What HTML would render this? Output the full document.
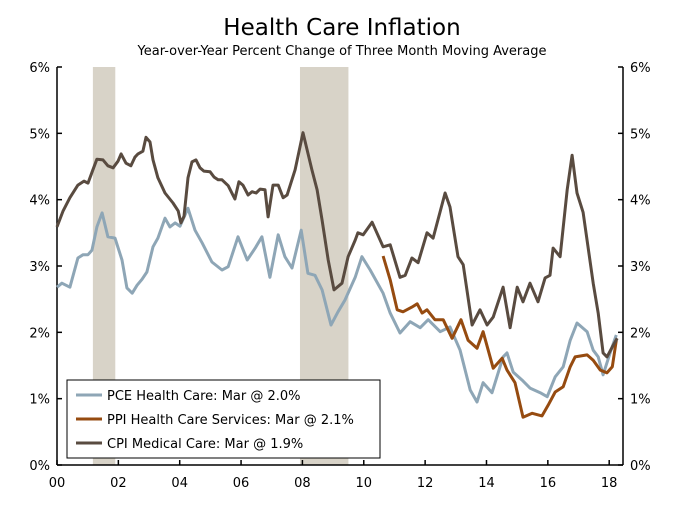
<!DOCTYPE html>
<html><head><meta charset="utf-8"><style>
body{margin:0;background:#fff;font-family:"DejaVu Sans","Liberation Sans",sans-serif;}
svg text{font-family:"DejaVu Sans","Liberation Sans",sans-serif;}
</style></head><body>
<svg id="chart" width="684" height="511">
<text x="342" y="35" text-anchor="middle" font-size="23" fill="#000">Health Care Inflation</text>
<text x="342" y="55" text-anchor="middle" font-size="13" fill="#000">Year-over-Year Percent Change of Three Month Moving Average</text>
<g id="rec"></g><g id="axes"></g><g id="lines"></g><g id="legend"></g>
</svg>
<script>
const recessions=[[1.17,1.9],[7.92,9.5]];
const yTicks=[0,1,2,3,4,5,6];
const xTickYears=[0,2,4,6,8,10,12,14,16,18];
const xTickLabels=["00","02","04","06","08","10","12","14","16","18"];
const cpiT=[0,0.2,0.42,0.68,0.88,1.01,1.17,1.3,1.5,1.66,1.83,1.99,2.09,2.25,2.41,2.54,2.64,2.8,2.9,3.03,3.13,3.29,3.52,3.78,3.95,4.04,4.14,4.27,4.4,4.53,4.66,4.79,4.99,5.12,5.25,5.38,5.58,5.71,5.8,5.93,6.06,6.23,6.36,6.49,6.62,6.78,6.88,7.04,7.21,7.37,7.5,7.76,8.02,8.31,8.48,8.64,8.84,9.03,9.29,9.49,9.72,9.81,9.98,10.27,10.63,10.86,11.18,11.35,11.57,11.77,12.06,12.26,12.65,12.81,13.07,13.24,13.53,13.79,14.02,14.22,14.54,14.77,15,15.19,15.42,15.68,15.91,16.07,16.17,16.4,16.63,16.79,16.95,17.15,17.48,17.64,17.8,17.93,18.1,18.26];
const cpiV=[3.59,3.83,4.03,4.22,4.28,4.25,4.45,4.61,4.6,4.51,4.48,4.58,4.69,4.55,4.51,4.64,4.69,4.73,4.94,4.87,4.6,4.33,4.1,3.95,3.83,3.65,3.75,4.33,4.57,4.6,4.48,4.43,4.42,4.34,4.3,4.3,4.21,4.09,4.01,4.27,4.22,4.07,4.12,4.1,4.16,4.15,3.74,4.22,4.22,4.03,4.07,4.45,5.01,4.45,4.15,3.69,3.09,2.64,2.74,3.14,3.39,3.5,3.47,3.66,3.29,3.32,2.83,2.86,3.12,3.05,3.5,3.42,4.1,3.89,3.14,3.02,2.11,2.34,2.11,2.23,2.68,2.07,2.68,2.46,2.74,2.46,2.82,2.86,3.27,3.14,4.15,4.67,4.1,3.81,2.74,2.29,1.69,1.63,1.78,1.91];
const pceT=[0,0.16,0.42,0.68,0.85,1.01,1.14,1.3,1.47,1.66,1.89,2.12,2.28,2.45,2.61,2.77,2.93,3.13,3.29,3.52,3.68,3.85,4.01,4.27,4.5,4.73,5.05,5.38,5.58,5.9,6.2,6.46,6.68,6.94,7.21,7.43,7.66,7.96,8.18,8.41,8.64,8.93,9.16,9.39,9.72,9.94,10.21,10.63,10.86,11.18,11.51,11.84,12.1,12.49,12.81,13.14,13.47,13.69,13.89,14.18,14.54,14.67,14.87,15.16,15.42,15.75,15.98,16.24,16.5,16.73,16.95,17.28,17.48,17.64,17.8,18.03,18.23];
const pceV=[2.68,2.74,2.68,3.12,3.17,3.17,3.24,3.59,3.8,3.44,3.42,3.09,2.67,2.59,2.71,2.8,2.91,3.29,3.42,3.72,3.59,3.65,3.6,3.87,3.54,3.35,3.06,2.94,2.99,3.44,3.09,3.27,3.44,2.83,3.47,3.14,2.97,3.54,2.89,2.86,2.64,2.11,2.31,2.49,2.83,3.14,2.94,2.59,2.29,1.99,2.16,2.07,2.19,2.01,2.08,1.73,1.13,0.95,1.24,1.09,1.63,1.69,1.4,1.28,1.16,1.09,1.03,1.33,1.48,1.88,2.14,2.01,1.73,1.63,1.36,1.69,1.96];
const ppiT=[10.63,10.86,11.09,11.28,11.57,11.74,11.9,12.06,12.32,12.59,12.88,13.17,13.4,13.69,13.89,14.22,14.51,14.67,14.93,15.19,15.49,15.81,16.01,16.24,16.5,16.73,16.89,17.28,17.48,17.71,17.93,18.1,18.23];
const ppiV=[3.15,2.79,2.34,2.31,2.38,2.43,2.29,2.34,2.19,2.19,1.91,2.19,1.88,1.76,2.01,1.46,1.61,1.43,1.24,0.72,0.78,0.74,0.9,1.1,1.18,1.48,1.63,1.66,1.58,1.43,1.39,1.48,1.88];
const seriesNames=["PCE Health Care: Mar @ 2.0%","PPI Health Care Services: Mar @ 2.1%","CPI Medical Care: Mar @ 1.9%"];

const NS="http://www.w3.org/2000/svg";
const L=57,R=623,T=67,B=465,TMAX=18.45;
const xs=t=>L+t/TMAX*(R-L);
const ys=v=>B-v/6*(B-T);
function mk(tag,attrs,parent){const e=document.createElementNS(NS,tag);for(const k in attrs)e.setAttribute(k,attrs[k]);parent.appendChild(e);return e;}
const rec=document.getElementById('rec'),axes=document.getElementById('axes'),lines=document.getElementById('lines'),leg=document.getElementById('legend');
recessions.forEach(r=>{const e=mk('rect',{x:xs(r[0]),y:T,width:xs(r[1])-xs(r[0]),height:B-T,fill:'#d8d3c8'},rec);

});
let a=mk('line',{x1:L,y1:T,x2:L,y2:B,stroke:'#000','stroke-width':1.5},axes);


a=mk('line',{x1:R,y1:T,x2:R,y2:B,stroke:'#000','stroke-width':1.5},axes);


a=mk('line',{x1:L,y1:B,x2:R,y2:B,stroke:'#000','stroke-width':1.5},axes);


yTicks.forEach(v=>{const y=ys(v);
mk('line',{x1:L,y1:y,x2:L+5,y2:y,stroke:'#000','stroke-width':1.5},axes);
mk('line',{x1:R-5,y1:y,x2:R,y2:y,stroke:'#000','stroke-width':1.5},axes);
const t1=mk('text',{x:L-7,y:y+5,'text-anchor':'end','font-size':13},axes);t1.textContent=v+'%';


const t2=mk('text',{x:R+7,y:y+5,'text-anchor':'start','font-size':13},axes);t2.textContent=v+'%';

});
xTickYears.forEach((yr,i)=>{const x=xs(yr);
mk('line',{x1:x,y1:B,x2:x,y2:B-5,stroke:'#000','stroke-width':1.5},axes);
const t=mk('text',{x:x,y:B+22,'text-anchor':'middle','font-size':13},axes);t.textContent=xTickLabels[i];

});
function line(ts,vs,color,name){const d=ts.map((t,i)=>(i?'L':'M')+xs(t).toFixed(1)+','+ys(vs[i]).toFixed(1)).join('');
const p=mk('path',{d:d,fill:'none',stroke:color,'stroke-width':3,'stroke-linejoin':'round'},lines);

}
line(pceT,pceV,'#8ea6b6','pce-health-care-line');
line(ppiT,ppiV,'#964b10','ppi-health-care-services-line');
line(cpiT,cpiV,'#594b40','cpi-medical-care-line');
const box=mk('rect',{x:67,y:380,width:313,height:78,fill:'#fff',stroke:'#000','stroke-width':1},leg);


const cols=['#8ea6b6','#964b10','#594b40'];
seriesNames.forEach((n,i)=>{const y=395+i*24;
mk('line',{x1:76,y1:y,x2:102,y2:y,stroke:cols[i],'stroke-width':3},leg);
const t=mk('text',{x:107,y:y+5,'font-size':13},leg);t.textContent=n;

});
</script>
</body></html>
